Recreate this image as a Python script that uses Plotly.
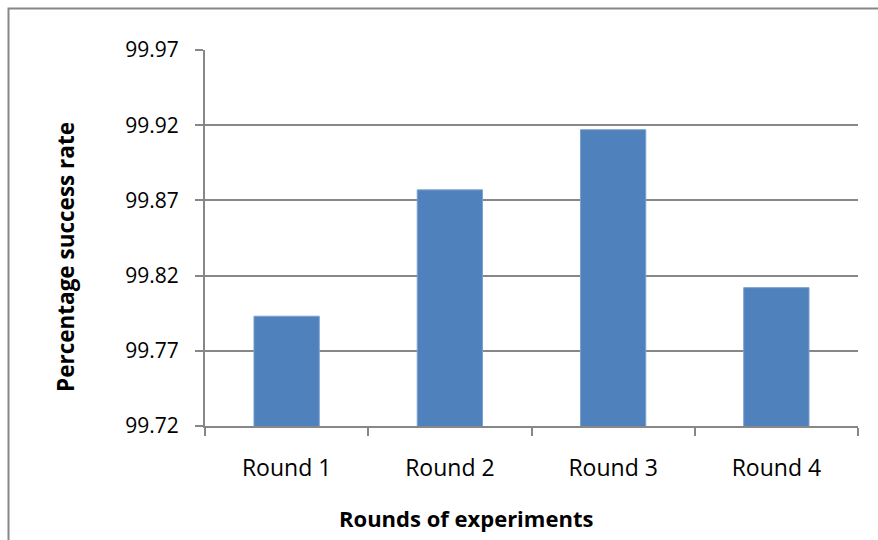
import plotly.graph_objects as go

# Success rate per round of experiments (%)
rounds = ["Round 1", "Round 2", "Round 3", "Round 4"]
success_rate = [99.793, 99.877, 99.917, 99.812]
y_ticks = [99.72, 99.77, 99.82, 99.87, 99.92, 99.97]

W, H = 878, 540
ML, MR, MT, MB = 205, 20, 50, 114
PW, PH = W - ML - MR, H - MT - MB


def px_x(p):
    return (p - ML) / PW


def px_y(p):
    return (H - MB - p) / PH


grid = "#878787"
font_family = "Open Sans, Noto Sans, sans-serif"

fig = go.Figure(
    go.Bar(
        x=rounds,
        y=success_rate,
        marker=dict(color="#4F81BD", line=dict(color="#7DA0CE", width=1)),
        hoverinfo="skip",
    )
)

fig.update_layout(
    width=W,
    height=H,
    margin=dict(l=ML, r=MR, t=MT, b=MB),
    paper_bgcolor="white",
    plot_bgcolor="white",
    bargap=0.6,
    showlegend=False,
    font=dict(family=font_family, color="#000000"),
    shapes=[
        # outer chart border
        dict(
            type="rect", xref="paper", yref="paper",
            x0=px_x(8.5), x1=2.0, y0=-1.0, y1=px_y(8.5),
            line=dict(color=grid, width=2), fillcolor="rgba(0,0,0,0)",
            layer="below",
        )
    ],
    annotations=[
        dict(
            text="<b>Rounds of experiments</b>", xref="paper", yref="paper",
            x=px_x(466), y=px_y(518), showarrow=False,
            font=dict(size=22, family=font_family, color="#000000"),
            xanchor="center", yanchor="middle",
        ),
        dict(
            text="<b>Percentage success rate</b>", xref="paper", yref="paper",
            x=px_x(65), y=px_y(257), showarrow=False, textangle=-90,
            font=dict(size=22.5, family=font_family, color="#000000"),
            xanchor="center", yanchor="middle",
        ),
    ],
)

fig.update_xaxes(
    type="category",
    showline=True, linecolor=grid, linewidth=2,
    ticks="outside", tickson="boundaries", ticklen=8, tickwidth=1.5, tickcolor=grid,
    tickfont=dict(size=23, family=font_family, color="#000000"),
    ticklabelstandoff=20,
    showgrid=False,
    fixedrange=True,
)

fig.update_yaxes(
    range=[99.72, 99.97],
    tickvals=y_ticks,
    ticktext=[f"{v:.2f}" for v in y_ticks],
    showline=True, linecolor=grid, linewidth=2,
    ticks="outside", ticklen=8, tickwidth=1.5, tickcolor=grid,
    tickfont=dict(size=21, family=font_family, color="#000000"),
    ticklabelstandoff=12,
    showgrid=True, gridcolor=grid, gridwidth=1.5,
    zeroline=False,
    fixedrange=True,
)

fig.write_html("out.html", config={"displayModeBar": False})
